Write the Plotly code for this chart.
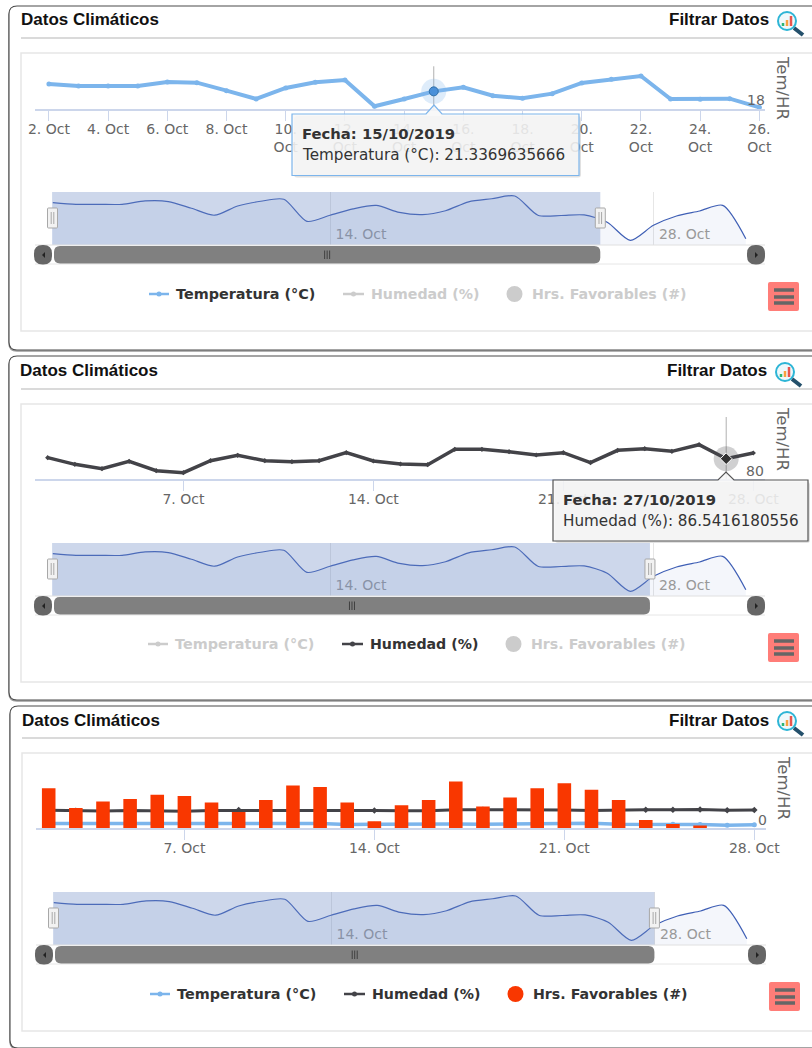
import datetime as dt
import plotly.graph_objects as go

W, H = 812, 1048
FONT = "DejaVu Sans"
HEAD = "Liberation Sans"

# Data
dates = [dt.datetime(2019, 10, 2) + dt.timedelta(days=i) for i in range(31)]
temperatura = [22.71, 22.34, 22.34, 22.34, 23.09, 22.96, 21.47, 19.92, 21.97, 23.02, 23.46,
               18.56, 19.92, 21.3369635666, 22.09, 20.54, 20.05, 20.91, 22.9, 23.58, 24.2,
               19.92, 19.86, 19.98, 18.37, 14.34, 17.67, 19.75, 20.86, 22.12, 14.71]
humedad = [86.88, 84.73, 83.33, 85.70, 82.69, 82.04, 85.91, 87.63, 85.91, 85.59, 85.91, 88.49,
           85.81, 84.84, 84.62, 89.57, 89.57, 88.82, 87.74, 88.49, 85.27, 89.25, 89.78, 88.92,
           91.07, 86.5416180556, 88.39]
horas = [10.3, 5.2, 6.9, 7.5, 8.6, 8.3, 6.6, 4.2, 7.3, 11.0, 10.6, 6.6, 1.8, 5.9, 7.3, 12.0,
         5.6, 7.9, 10.3, 11.6, 9.9, 7.3, 2.1, 1.1, 0.7]
c1_tickdays = [2, 4, 6, 8, 10, 12, 14, 16, 18, 20, 22, 24, 26]
c1_ticktext = ["2. Oct", "4. Oct", "6. Oct", "8. Oct", "10.<br>Oct", "12.<br>Oct", "14.<br>Oct",
               "16.<br>Oct", "18.<br>Oct", "20.<br>Oct", "22.<br>Oct", "24.<br>Oct", "26.<br>Oct"]
week_tickdays = [7, 14, 21, 28]
week_ticktext = ["7. Oct", "14. Oct", "21. Oct", "28. Oct"]
nav_tickdays = [14, 28]
nav_ticktext = ["14. Oct", "28. Oct"]
series_names = ["Temperatura (°C)", "Humedad (%)", "Hrs. Favorables (#)"]

BLUE, DARK, RED = "#7cb5ec", "#434348", "#f93700"


def X(p):
    return p / W


def Y(p):
    return 1 - p / H


def D(day):
    return dt.datetime(2019, 10, 1) + dt.timedelta(days=day - 1)


def rounded(x0, y0, x1, y1, r):
    pts = [("M", x0 + r, y0), ("L", x1 - r, y0), ("Q", x1, y0, x1, y0 + r), ("L", x1, y1 - r),
           ("Q", x1, y1, x1 - r, y1), ("L", x0 + r, y1), ("Q", x0, y1, x0, y1 - r),
           ("L", x0, y0 + r), ("Q", x0, y0, x0 + r, y0)]
    out = []
    for p in pts:
        c = p[0]
        nums = p[1:]
        s = " ".join(f"{X(nums[i]):.5f} {Y(nums[i + 1]):.5f}" for i in range(0, len(nums), 2))
        out.append(f"{c} {s}")
    return " ".join(out) + " Z"


def poly(points):
    return "M " + " L ".join(f"{X(a):.5f} {Y(b):.5f}" for a, b in points) + " Z"


shapes, annotations, traces, layout_axes = [], [], [], {}


def rect(x0, y0, x1, y1, r=0, fill=None, line=None, lw=1, layer="above"):
    shapes.append(dict(type="path", xref="paper", yref="paper", layer=layer,
                       path=rounded(x0, y0, x1, y1, r) if r else poly([(x0, y0), (x1, y0), (x1, y1), (x0, y1)]),
                       fillcolor=fill or "rgba(0,0,0,0)",
                       line=dict(color=line or "rgba(0,0,0,0)", width=lw if line else 0)))


def seg(x0, y0, x1, y1, color, lw=1, layer="above"):
    shapes.append(dict(type="line", xref="paper", yref="paper", layer=layer, x0=X(x0), y0=Y(y0),
                       x1=X(x1), y1=Y(y1), line=dict(color=color, width=lw)))


def dot(cx, cy, r, fill, line=None, lw=1, layer="above"):
    shapes.append(dict(type="circle", xref="paper", yref="paper", layer=layer, x0=X(cx - r), y0=Y(cy - r),
                       x1=X(cx + r), y1=Y(cy + r), fillcolor=fill,
                       line=dict(color=line or fill, width=lw if line else 0)))


def text(x, y, s, size=14, color="#333", anchor="left", font=FONT, angle=0):
    annotations.append(dict(xref="paper", yref="paper", x=X(x), y=Y(y), text=s, showarrow=False,
                            xanchor=anchor, yanchor="middle", textangle=angle, borderpad=0, borderwidth=0,
                            font=dict(family=font, size=size, color=color)))


def icon(cx, cy):
    dot(cx, cy, 9, "#eef8fb", "#2db5d6", 2)
    seg(cx + 7, cy + 7, cx + 16, cy + 14, "#24506b", 4)
    seg(cx - 4, cy + 5, cx - 4, cy + 2, "#2bb673", 2.5)
    seg(cx, cy + 5, cx, cy - 1, "#f9a03f", 2.5)
    seg(cx + 4, cy + 5, cx + 4, cy - 5, "#e8554e", 2.5)


def legend(dy, dx, active):
    y = 294 + dy
    cols = [BLUE if active[0] else "#cccccc", DARK if active[1] else "#cccccc", RED if active[2] else "#cccccc"]
    txt = ["#333" if a else "#cccccc" for a in active]
    seg(149 + dx, y, 169 + dx, y, cols[0], 2.5)
    dot(159 + dx, y, 2.5, cols[0])
    text(176 + dx, y, f"<b>{series_names[0]}</b>", 14.4, txt[0])
    seg(343 + dx, y, 364 + dx, y, cols[1], 2.5)
    dot(353.5 + dx, y, 2.5, cols[1])
    text(371 + dx, y, f"<b>{series_names[1]}</b>", 14.2, txt[1])
    dot(514.5 + dx, y, 8, cols[2])
    text(532 + dx, y, f"<b>{series_names[2]}</b>", 14.2, txt[2])


def panel(n, dy, dx, title_dx, filt_dx, card_top, card_bottom, mask_end):
    # card frame
    rect(9 + dx, card_top + 1, 840, card_bottom + 1, 8, None, "#9a9a9a", 1.5, "below")
    rect(9 + dx, card_top, 840, card_bottom, 8, "#ffffff", "#4a4a4a", 1.1, "below")
    seg(21 + dx, 38 + dy, 812, 38 + dy, "#b5b5b5", 1.2, "below")
    rect(21 + dx, 53 + dy, 840, 331 + dy, 0, None, "#e6e6e6", 1.5, "below")
    text(21 + title_dx, 20 + dy, "<b>Datos Climáticos</b>", 17, "#111", font=HEAD)
    text(769 + filt_dx, 20 + dy, "<b>Filtrar Datos</b>", 17, "#111", "right", HEAD)
    icon(787 + filt_dx, 21 + dy)
    # menu button
    rect(768 + dx, 282 + dy, 799 + dx, 311 + dy, 2, "#ff7d78")
    for yy in (290, 297, 303):
        seg(774 + dx, yy + dy, 794 + dx, yy + dy, "#666666", 3.5)
    # scrollbar and navigator furniture
    day_px = lambda d: 35 + dx + (d - 1.23) / (32.83 - 1.23) * 730
    xn = 2 * n + 2
    mask_x1 = day_px(mask_end)
    shapes.append(dict(type="rect", xref=f"x{xn}", yref="paper", layer="above", x0=D(1.97), x1=D(mask_end),
                       y0=Y(192 + dy), y1=Y(245 + dy), fillcolor="rgba(102,133,194,0.33)", line=dict(width=0)))
    seg(35 + dx, 245 + dy, 765 + dx, 245 + dy, "#e0e0e0", 1)
    seg(35 + dx, 264 + dy, 765 + dx, 264 + dy, "#e6e6e6", 1)
    rect(54 + dx, 246 + dy, mask_x1, 263.5 + dy, 6, "#808080")
    mid = (54 + dx + mask_x1) / 2
    for off in (-2.5, 0, 2.5):
        seg(mid + off, 250.5 + dy, mid + off, 259 + dy, "#3f3f3f", 1)
    rect(34 + dx, 245 + dy, 52 + dx, 264.5 + dy, 8.5, "#666666")
    rect(747 + dx, 245 + dy, 765 + dx, 264.5 + dy, 8.5, "#666666")
    shapes.append(dict(type="path", xref="paper", yref="paper", layer="above",
                       path=poly([(45 + dx, 252 + dy), (42 + dx, 255 + dy), (45 + dx, 258 + dy)]),
                       fillcolor="#222", line=dict(width=0)))
    shapes.append(dict(type="path", xref="paper", yref="paper", layer="above",
                       path=poly([(755 + dx, 252 + dy), (758 + dx, 255 + dy), (755 + dx, 258 + dy)]),
                       fillcolor="#222", line=dict(width=0)))
    for hx in (52.5 + dx, mask_x1):
        rect(hx - 5, 208 + dy, hx + 5, 228 + dy, 1, "#f2f2f2", "#a8a8a8", 1)
        seg(hx - 1.3, 212 + dy, hx - 1.3, 224 + dy, "#a8a8a8", 1)
        seg(hx + 1.3, 212 + dy, hx + 1.3, 224 + dy, "#a8a8a8", 1)
    text(783 + dx, 88 + dy, "Tem/HR", 16.5, "#666", "center", angle=90)


def axes(n, dy, dx, main_range, yr, ytop, tickdays, ticktext):
    xm, ym = 2 * n + 1, 2 * n + 1
    xn, yn = 2 * n + 2, 2 * n + 2
    nm = lambda p, i: f"{p}axis" + ("" if i == 1 else str(i))
    rid = lambda p, i: p if i == 1 else f"{p}{i}"
    bottom = 109.3 if n == 0 else (479 if n == 1 else 828.3)
    top = 66.3 if n == 0 else (417 if n == 1 else 766)
    dom_x = [X(35 + dx), X(765 + dx)]
    layout_axes[nm("x", xm)] = dict(
        domain=dom_x, range=[D(main_range[0]), D(main_range[1])], anchor=rid("y", ym), type="date",
        tickmode="array", tickvals=[D(d) for d in tickdays], ticktext=ticktext,
        showgrid=False, showline=True, linecolor="#ccd6eb", linewidth=1.5, ticks="outside", ticklen=10,
        tickcolor="#ccd6eb", tickwidth=1, ticklabelstandoff=-4,
        tickfont=dict(family=FONT, size=14, color="#666666"), zeroline=False)
    layout_axes[nm("y", ym)] = dict(
        domain=[Y(bottom), Y(top)], range=yr, anchor=rid("x", xm), side="right", tickmode="array", tickvals=[ytop],
        showticklabels=False, showgrid=True, gridcolor="#e6e6e6", gridwidth=1, ticks="", zeroline=False, showline=False)
    layout_axes[nm("x", xn)] = dict(
        domain=dom_x, range=[D(1.23), D(32.83)], anchor=f"y{yn}", type="date",
        tickmode="array", tickvals=[D(d) for d in nav_tickdays], ticktext=nav_ticktext,
        ticklabelposition="inside", ticklabelshift=31, ticks="", showgrid=True, gridcolor="#e6e6e6", gridwidth=1,
        showline=False, zeroline=False, tickfont=dict(family=FONT, size=14, color="#999999"))
    layout_axes[nm("y", yn)] = dict(
        domain=[Y(245 + dy), Y(192 + dy)], range=[13.3, 25.08], anchor=f"x{xn}", tickmode="array", tickvals=[25.08],
        showticklabels=False, showgrid=True, gridcolor="#dcdcdc", gridwidth=1, ticks="", zeroline=False, showline=False)
    # navigator series
    traces.append(go.Scatter(x=dates, y=temperatura, xaxis=f"x{xn}", yaxis=f"y{yn}", mode="lines", fill="tozeroy",
                             fillcolor="rgba(102,133,194,0.07)", line=dict(color="#3f5fb5", width=1.2, shape="spline", smoothing=0.75),
                             showlegend=False, hoverinfo="skip"))
    return rid("x", xm), rid("y", ym)


def line_trace(xs, ys, xa, ya, name, color, width, sym="circle", msize=5):
    traces.append(go.Scatter(x=xs, y=ys, xaxis=xa, yaxis=ya, mode="lines+markers", name=name,
                             line=dict(color=color, width=width), marker=dict(color=color, size=msize, symbol=sym),
                             showlegend=False))


def highlight(day, value, xa, ya, color, sym, inner, lineclr):
    shapes.append(dict(type="line", xref=xa, yref=ya + " domain", layer="below", x0=D(day), x1=D(day), y0=0, y1=1,
                       line=dict(color="#b0b0b0", width=1)))
    traces.append(go.Scatter(x=[D(day)], y=[value], xaxis=xa, yaxis=ya, mode="markers", showlegend=False, hoverinfo="skip",
                             marker=dict(size=25, color=color, opacity=0.25)))
    traces.append(go.Scatter(x=[D(day)], y=[value], xaxis=xa, yaxis=ya, mode="markers", showlegend=False, hoverinfo="skip",
                             marker=dict(size=inner, color=lineclr, symbol=sym, line=dict(color="#ffffff" if sym == "diamond" else "#2f6fa8", width=1))))


def tooltip(x0, y0, x1, y1, tipx, tipy, border, line1, line2, tx):
    rect(x0 + 2, y0 + 2, x1 + 2, y1 + 2, 3, "rgba(120,120,120,0.22)")
    midx = tipx
    path = [(x0, y0), (midx - 8, y0), (tipx, tipy), (midx + 8, y0), (x1, y0), (x1, y1), (x0, y1)]
    shapes.append(dict(type="path", xref="paper", yref="paper", layer="above", path=poly(path),
                       fillcolor="rgba(247,247,247,0.86)", line=dict(color=border, width=1.2)))
    text(tx, y0 + 19.5, f"<b>{line1}</b>", 14.8, "#333")
    text(tx, y0 + 41, line2, 15.2, "#333")


# ---- Panel 1
panel(0, 0, 0, 0, 0, 6, 350, 25.7)
xa, ya = axes(0, 0, 0, (1.53, 26.19), [18, 26], 26, c1_tickdays, c1_ticktext)
line_trace(dates[:25], temperatura[:25], xa, ya, series_names[0], BLUE, 4, "circle", 5)
highlight(15, temperatura[13], xa, ya, BLUE, "circle", 9, "#4a90d9")
text(765, 100, "18", 14, "#666", "right")
legend(0, 0, [True, False, False])
tooltip(292, 114, 579, 175.5, 434, 105, BLUE, "Fecha: 15/10/2019", "Temperatura (°C): 21.3369635666", 302)

# ---- Panel 2
panel(1, 351, 0, -1, -2, 356, 700, 27.85)
xa, ya = axes(1, 351, 0, (1.532, 28.43), [80, 100], 100, week_tickdays, week_ticktext)
line_trace(dates[:27], humedad, xa, ya, series_names[1], DARK, 3.5, "diamond", 4)
highlight(27, humedad[25], xa, ya, DARK, "diamond", 9, "#333333")
text(764, 471, "80", 14, "#666", "right")
legend(350, -1, [False, True, False])
tooltip(553, 480, 808, 541, 726, 472, "#555555", "Fecha: 27/10/2019", "Humedad (%): 86.5416180556", 563)

# ---- Panel 3
panel(2, 700, 1, 1, 0, 706, 1048, 28)
xa, ya = axes(2, 700, 1, (1.532, 28.43), [0, 300], 300, week_tickdays, week_ticktext)
line_trace(dates[:27], temperatura[:27], xa, ya, series_names[0], BLUE, 3.5, "circle", 5)
line_trace(dates[:27], humedad, xa, ya, series_names[1], DARK, 3, "diamond", 5)
layout_axes["yaxis7"] = dict(overlaying="y5", range=[0, 16], visible=False, anchor="x5")
traces.append(go.Bar(x=dates[:25], y=horas, xaxis="x5", yaxis="y7", name=series_names[2], marker=dict(color=RED, line=dict(width=0)),
                     width=0.5 * 86400000, showlegend=False))
text(767, 820, "0", 14, "#666", "right")
legend(700, 1, [True, True, True])

fig = go.Figure(data=traces)
fig.update_layout(width=W, height=H, autosize=False, margin=dict(l=0, r=0, t=0, b=0, pad=0, autoexpand=False),
                  paper_bgcolor="#ffffff", plot_bgcolor="rgba(0,0,0,0)", showlegend=False,
                  shapes=shapes, annotations=annotations, font=dict(family=FONT), **layout_axes)
fig.write_html("out.html", config=dict(displayModeBar=False),
               post_script="document.body.style.margin='0';document.body.style.overflow='hidden';")
